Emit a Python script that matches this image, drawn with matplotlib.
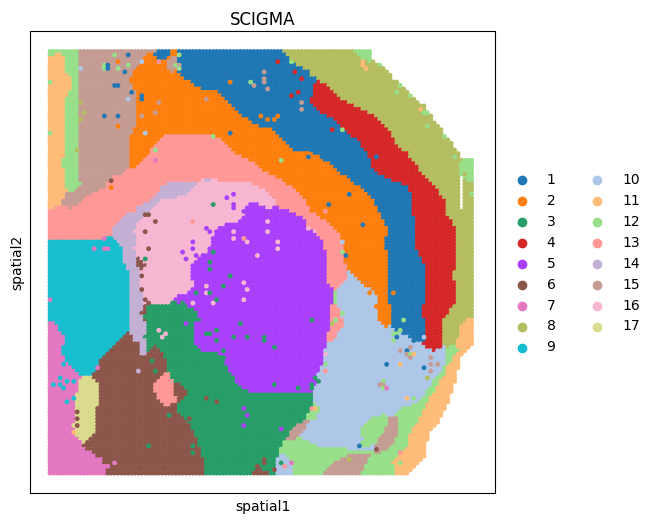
#!/usr/bin/env python3

import matplotlib

matplotlib.use("Agg")
import matplotlib.pyplot as plt
import numpy as np


CLUSTERS = list(range(1, 18))
PALETTE = [
    "#1f77b4", "#ff7f0e", "#279e68", "#d62728", "#aa40fc", "#8c564b",
    "#e377c2", "#b5bd61", "#17becf", "#aec7e8", "#ffbb78", "#98df8a",
    "#ff9896", "#c5b0d5", "#c49c94", "#f7b6d2", "#dbdb8d",
]

# tissue layout, one scan line per entry: (end of run on spatial1, cluster)
# cluster 0 means no spot in that run
ROW_Y = list(range(52, 476, 8))
ROW_START = [48] * len(ROW_Y)
ROW_RUNS = [
    [(62, 12), (70, 11), (79, 12), (140, 15), (147, 2), (157, 15), (168, 1), (173, 2), (182, 15), (283, 1), (353, 8), (368, 12)],
    [(66, 11), (79, 12), (143, 15), (158, 2), (168, 1), (173, 2), (182, 15), (288, 1), (362, 8), (377, 12)],
    [(66, 11), (79, 12), (137, 15), (165, 2), (178, 15), (303, 1), (380, 8), (388, 12)],
    [(68, 11), (79, 12), (130, 15), (183, 2), (318, 1), (392, 8)],
    [(74, 11), (79, 12), (130, 15), (190, 2), (315, 1), (322, 4), (400, 8)],
    [(70, 11), (79, 12), (137, 15), (203, 2), (212, 12), (223, 2), (313, 1), (333, 4), (407, 8)],
    [(66, 11), (79, 12), (135, 15), (220, 2), (310, 1), (343, 4), (420, 8)],
    [(66, 11), (79, 12), (137, 15), (235, 2), (310, 1), (357, 4), (427, 8)],
    [(66, 11), (79, 12), (135, 15), (243, 2), (327, 1), (373, 4), (432, 8)],
    [(66, 11), (79, 12), (140, 15), (255, 2), (340, 1), (385, 4), (437, 8)],
    [(66, 11), (79, 12), (130, 15), (277, 2), (345, 1), (392, 4), (443, 8)],
    [(66, 11), (79, 12), (130, 15), (157, 2), (220, 13), (283, 2), (357, 1), (392, 4), (448, 8)],
    [(66, 11), (79, 12), (130, 15), (157, 2), (230, 13), (290, 2), (365, 1), (403, 4), (455, 8)],
    [(66, 11), (79, 12), (130, 15), (143, 2), (237, 13), (317, 2), (368, 1), (410, 4), (458, 8)],
    [(62, 11), (79, 12), (130, 15), (143, 2), (257, 13), (332, 2), (370, 1), (417, 4), (460, 8), (477, 12)],
    [(66, 11), (79, 12), (122, 15), (130, 2), (267, 13), (340, 2), (375, 1), (423, 4), (460, 8), (477, 12)],
    [(66, 11), (79, 12), (110, 15), (198, 13), (217, 14), (280, 13), (347, 2), (388, 1), (425, 4), (459, 8), (463, 0), (477, 12)],
    [(66, 11), (83, 12), (105, 15), (160, 13), (195, 14), (260, 16), (292, 13), (360, 2), (407, 1), (437, 4), (459, 8), (463, 0), (477, 8)],
    [(66, 11), (90, 15), (157, 13), (177, 14), (192, 13), (272, 16), (302, 13), (370, 2), (412, 1), (443, 4), (459, 8), (463, 0), (477, 8)],
    [(57, 11), (66, 12), (80, 15), (145, 13), (158, 14), (245, 16), (260, 5), (277, 16), (305, 13), (373, 2), (412, 1), (447, 4), (459, 8), (463, 0), (477, 8)],
    [(130, 13), (150, 14), (247, 16), (290, 5), (298, 16), (312, 13), (380, 2), (413, 1), (447, 4), (477, 8)],
    [(120, 13), (140, 14), (245, 16), (302, 5), (305, 16), (325, 13), (383, 2), (417, 1), (450, 4), (477, 8)],
    [(112, 13), (132, 14), (217, 16), (308, 5), (315, 16), (335, 13), (388, 2), (417, 1), (455, 4), (477, 8)],
    [(110, 13), (135, 14), (212, 16), (317, 5), (325, 16), (343, 13), (388, 2), (416, 1), (455, 4), (477, 8)],
    [(122, 9), (135, 14), (212, 16), (320, 5), (327, 16), (342, 13), (382, 2), (417, 1), (455, 4), (477, 8)],
    [(122, 9), (133, 14), (207, 16), (322, 5), (327, 16), (345, 13), (387, 2), (417, 1), (455, 4), (477, 8)],
    [(123, 9), (138, 14), (147, 6), (190, 16), (327, 5), (343, 13), (348, 12), (387, 2), (425, 1), (455, 4), (477, 8)],
    [(127, 9), (138, 14), (147, 6), (193, 16), (327, 5), (343, 13), (348, 10), (387, 2), (425, 1), (455, 4), (477, 8)],
    [(130, 9), (140, 14), (190, 16), (327, 5), (348, 13), (358, 10), (387, 2), (425, 1), (452, 4), (477, 8)],
    [(127, 9), (143, 14), (195, 16), (328, 5), (343, 13), (357, 10), (387, 2), (425, 1), (455, 4), (477, 8)],
    [(130, 9), (138, 14), (143, 6), (173, 16), (178, 5), (193, 16), (332, 5), (335, 16), (340, 12), (373, 10), (393, 2), (425, 1), (455, 4), (477, 8)],
    [(130, 9), (143, 14), (173, 16), (332, 5), (335, 16), (340, 12), (378, 10), (388, 2), (425, 1), (455, 4), (477, 8)],
    [(130, 9), (138, 14), (148, 6), (190, 3), (332, 5), (340, 13), (375, 10), (392, 2), (422, 1), (453, 4), (477, 8)],
    [(130, 9), (143, 14), (150, 6), (207, 3), (327, 5), (340, 13), (378, 10), (392, 2), (422, 1), (447, 4), (477, 8)],
    [(55, 7), (130, 9), (143, 14), (150, 6), (193, 3), (332, 5), (343, 13), (378, 10), (392, 2), (425, 1), (442, 4), (460, 8), (463, 12), (477, 11)],
    [(63, 7), (128, 9), (143, 14), (148, 6), (197, 3), (332, 5), (340, 13), (400, 10), (425, 1), (442, 4), (455, 8), (463, 12), (472, 11)],
    [(65, 7), (120, 9), (135, 6), (143, 14), (147, 6), (156, 3), (165, 6), (195, 3), (325, 5), (335, 13), (415, 10), (425, 1), (442, 4), (455, 8), (460, 12), (472, 11)],
    [(63, 7), (110, 9), (135, 6), (147, 14), (157, 3), (165, 6), (195, 3), (323, 5), (427, 10), (437, 4), (442, 1), (450, 10), (458, 12), (467, 11)],
    [(63, 7), (102, 9), (135, 6), (143, 14), (165, 6), (223, 3), (323, 5), (447, 10), (455, 12), (463, 11)],
    [(70, 7), (100, 9), (135, 6), (143, 14), (168, 6), (225, 3), (323, 5), (442, 10), (450, 12), (459, 11)],
    [(78, 7), (93, 9), (167, 6), (233, 3), (318, 5), (440, 10), (445, 12), (455, 11)],
    [(80, 7), (95, 17), (158, 6), (177, 13), (233, 3), (315, 5), (435, 10), (445, 12), (455, 11)],
    [(78, 7), (100, 17), (152, 6), (172, 13), (185, 6), (243, 3), (317, 5), (425, 10), (435, 12), (453, 11)],
    [(75, 7), (100, 17), (157, 6), (177, 13), (193, 6), (315, 3), (425, 10), (435, 12), (450, 11)],
    [(75, 7), (100, 17), (162, 6), (173, 13), (178, 6), (309, 3), (318, 13), (417, 10), (425, 12), (450, 11)],
    [(75, 7), (96, 17), (177, 6), (307, 3), (323, 12), (395, 10), (399, 15), (425, 12), (443, 11)],
    [(75, 7), (96, 17), (187, 6), (302, 3), (310, 15), (365, 10), (392, 12), (402, 15), (417, 12), (442, 11)],
    [(75, 7), (96, 17), (190, 6), (288, 3), (295, 12), (305, 15), (313, 12), (365, 10), (387, 12), (398, 15), (417, 12), (433, 11)],
    [(77, 7), (96, 17), (195, 6), (287, 3), (300, 15), (358, 10), (382, 12), (398, 15), (408, 12), (430, 11)],
    [(80, 7), (200, 6), (283, 3), (313, 12), (382, 10), (392, 15), (408, 12), (425, 11)],
    [(90, 7), (198, 6), (275, 3), (370, 12), (387, 15), (407, 12), (425, 11)],
    [(103, 7), (203, 6), (275, 3), (292, 10), (340, 12), (370, 15), (392, 12), (425, 11)],
    [(105, 7), (203, 6), (253, 3), (267, 6), (272, 3), (275, 6), (292, 10), (322, 12), (360, 15), (395, 12), (407, 11)],
]

# single spots that differ from their surroundings
SPOT_X = [
    81, 103, 107, 107, 103, 115, 128, 119, 141, 128, 119, 124, 115, 119, 132, 141, 141, 128, 158, 81,
    85, 81, 103, 119, 119, 141, 154, 145, 154, 154, 77, 111, 111, 213, 230, 261, 230, 252, 254, 205,
    187, 158, 175, 179, 179, 179, 50, 50, 213, 227, 235, 235, 235, 243, 145, 149, 154, 192, 145, 149,
    145, 205, 209, 192, 192, 184, 197, 187, 205, 213, 243, 247, 235, 235, 256, 98, 107, 111, 103, 95,
    103, 107, 115,
    277, 290, 294, 303, 265, 265, 265, 269, 299, 291, 303, 303, 333, 342, 376, 282, 308, 312, 350, 329,
    324, 363, 342, 342, 346, 363, 363, 367, 419, 423, 427, 401, 397, 410, 427, 444, 453, 474, 465, 269,
    273, 277, 323, 268, 269, 269, 277, 277, 308,
    50, 64, 60, 68, 73, 55, 59, 64, 73, 68, 98, 137, 77, 77, 77, 73, 73, 149, 192, 192,
    115, 107, 168, 188, 205, 218, 243, 247, 243, 258, 156, 153, 158, 167, 162, 145, 141, 141, 145, 149,
    243, 247, 243, 213, 218, 205, 205, 222, 231, 197, 209, 183, 192, 187, 197, 239, 218, 209, 205, 235,
    247, 218, 264, 210, 210, 223, 223, 237, 237, 247, 260,
    312, 265, 265, 273, 316, 320, 275, 299, 312, 312, 282, 368, 376, 384, 393, 376, 388, 423, 401, 406,
    401, 410, 414, 406, 410, 410, 397, 414, 423, 403, 401, 393, 397, 393, 432, 432, 439, 432, 427, 380,
    384, 388, 384, 384, 406, 384, 414, 359, 376, 350, 401, 401, 282, 290, 286, 265, 265, 273, 312, 316,
    325, 325, 342, 337, 333, 325,
]
SPOT_Y = [
    69, 66, 66, 69, 69, 56, 56, 60, 60, 64, 69, 73, 87, 87, 91, 95, 99, 99, 104, 104,
    112, 121, 117, 117, 125, 117, 112, 134, 151, 160, 151, 182, 186, 138, 134, 117, 82, 82, 87, 99,
    91, 60, 65, 56, 69, 64, 134, 83, 203, 199, 194, 203, 208, 212, 216, 216, 220, 220, 233, 247,
    259, 229, 233, 242, 247, 251, 255, 259, 259, 251, 238, 242, 233, 240, 255, 242, 242, 238, 238, 247,
    247, 247, 242,
    60, 62, 73, 78, 73, 78, 83, 88, 91, 95, 103, 108, 129, 129, 156, 160, 156, 151, 194, 203,
    212, 225, 242, 251, 255, 60, 64, 69, 108, 112, 112, 87, 91, 95, 125, 138, 156, 194, 173, 120,
    120, 117, 156, 220, 230, 233, 243, 247, 229,
    298, 363, 377, 381, 381, 385, 385, 389, 398, 402, 368, 372, 411, 420, 424, 424, 433, 446, 446, 454,
    463, 467, 415, 420, 398, 402, 407, 415, 424, 467, 372, 360, 329, 333, 337, 316, 277, 290, 298, 303,
    281, 290, 298, 303, 298, 286, 293, 286, 277, 293, 293, 303, 303, 325, 325, 325, 329, 333, 333, 337,
    337, 342, 340, 263, 268, 350, 357, 375, 380, 385, 385,
    320, 337, 342, 346, 377, 381, 385, 389, 385, 389, 428, 294, 294, 294, 294, 307, 363, 368, 363, 350,
    350, 346, 355, 355, 359, 355, 337, 342, 337, 320, 329, 333, 333, 342, 359, 363, 363, 372, 377, 385,
    385, 389, 381, 389, 398, 415, 398, 446, 450, 458, 454, 463, 463, 463, 467, 460, 464, 468, 407, 407,
    372, 364, 312, 320, 324, 355,
]
SPOT_CLUSTER = [
    10, 12, 1, 1, 12, 12, 1, 2, 10, 12, 12, 1, 1, 1, 1, 1, 1, 10, 15, 8,
    8, 8, 1, 1, 2, 15, 15, 10, 12, 7, 8, 6, 2, 12, 1, 2, 2, 12, 15, 15,
    2, 13, 12, 12, 12, 15, 12, 12, 3, 5, 5, 5, 5, 5, 6, 6, 6, 13, 6, 6,
    3, 5, 5, 5, 5, 5, 5, 5, 5, 3, 13, 16, 16, 16, 16, 9, 9, 9, 7, 7,
    7, 7, 9,
    4, 12, 4, 4, 15, 15, 15, 15, 4, 4, 15, 15, 4, 12, 1, 12, 1, 1, 1, 1,
    13, 1, 10, 12, 1, 11, 11, 11, 11, 12, 12, 12, 12, 12, 12, 12, 12, 12, 8, 2,
    2, 2, 1, 16, 16, 16, 16, 16, 16,
    7, 9, 9, 9, 9, 9, 9, 9, 9, 9, 7, 14, 6, 6, 6, 17, 11, 3, 3, 3,
    7, 7, 3, 6, 6, 6, 5, 5, 5, 6, 3, 3, 16, 16, 16, 3, 6, 6, 6, 6,
    16, 16, 16, 16, 3, 16, 16, 3, 3, 3, 3, 3, 16, 5, 5, 3, 3, 3, 3, 3,
    3, 3, 3, 3, 3, 3, 3, 5, 5, 5, 5,
    3, 3, 3, 3, 3, 3, 3, 3, 3, 3, 5, 2, 2, 2, 2, 2, 1, 1, 11, 1,
    15, 15, 11, 15, 15, 12, 1, 1, 10, 12, 12, 12, 12, 12, 15, 15, 15, 15, 8, 15,
    15, 7, 12, 12, 11, 12, 12, 1, 6, 8, 13, 12, 3, 7, 13, 6, 6, 6, 13, 11,
    13, 12, 12, 12, 8, 16,
]


def label_grid(grid_x, grid_y):
    # fill the lattice from the scan lines, 0 where there is no spot
    grid = np.zeros((len(grid_y), len(grid_x)), dtype=int)
    for i, y in enumerate(grid_y):
        row = int(np.argmin(np.abs(np.array(ROW_Y) - y)))
        ends = np.array([run[0] for run in ROW_RUNS[row]])
        clusters = [run[1] for run in ROW_RUNS[row]]
        for j, x in enumerate(grid_x):
            if ROW_START[row] <= x < ends[-1]:
                grid[i, j] = clusters[int(np.searchsorted(ends, x, side="right"))]
    return grid


def smooth_labels(grid, radius=2):
    # most common label in a small window, rounds off the scan line steps
    padded = np.pad(grid, radius, mode="edge")
    size = 2 * radius + 1
    smoothed = grid.copy()
    for i in range(grid.shape[0]):
        for j in range(grid.shape[1]):
            window = padded[i : i + size, j : j + size].ravel()
            smoothed[i, j] = np.bincount(window).argmax()
    # the narrow slit in cluster 8 stays open
    inside = np.maximum.accumulate(grid[:, ::-1], axis=1)[:, ::-1] > 0
    smoothed[(grid == 0) & inside] = 0
    return smoothed


def build_spots():
    grid_x = np.arange(50.0, 475.0, 3.4)
    grid_y = np.arange(51.5, 473.5, 3.4)
    grid = smooth_labels(label_grid(grid_x, grid_y))

    mesh_x, mesh_y = np.meshgrid(grid_x, grid_y)
    keep = grid > 0
    xs, ys, labels = mesh_x[keep], mesh_y[keep], grid[keep]

    # isolated spots go last so their neighbours do not cover them
    isolated = []
    for x, y, cluster in zip(SPOT_X, SPOT_Y, SPOT_CLUSTER):
        nearest = int(np.argmin((xs - x) ** 2 + (ys - y) ** 2))
        labels[nearest] = cluster
        isolated.append(nearest)
    on_top = np.zeros(len(xs), dtype=bool)
    on_top[isolated] = True
    order = np.argsort(on_top, kind="stable")
    return xs[order], ys[order], labels[order]


def main():
    xs, ys, labels = build_spots()

    fig = plt.figure(figsize=(6.54, 5.23), dpi=100)
    ax = fig.add_axes([30.2 / 654, 1 - 493 / 523, 465 / 654, 461.5 / 523])
    ax.scatter(xs, ys, c=[PALETTE[k - 1] for k in labels], s=12, linewidths=0)
    ax.set_xlim(30.2, 495.2)
    ax.set_ylim(493, 31.5)
    ax.set_xticks([])
    ax.set_yticks([])
    ax.set_xlabel("spatial1", labelpad=5)
    ax.set_ylabel("spatial2")
    ax.set_title("SCIGMA", pad=5)

    for cluster, color in zip(CLUSTERS, PALETTE):
        ax.scatter([], [], c=color, label=str(cluster))
    ax.legend(frameon=False, loc="center left", bbox_to_anchor=(1, 0.497), ncol=2)

    fig.savefig("out.png", dpi=100)
    plt.close(fig)


if __name__ == "__main__":
    main()
